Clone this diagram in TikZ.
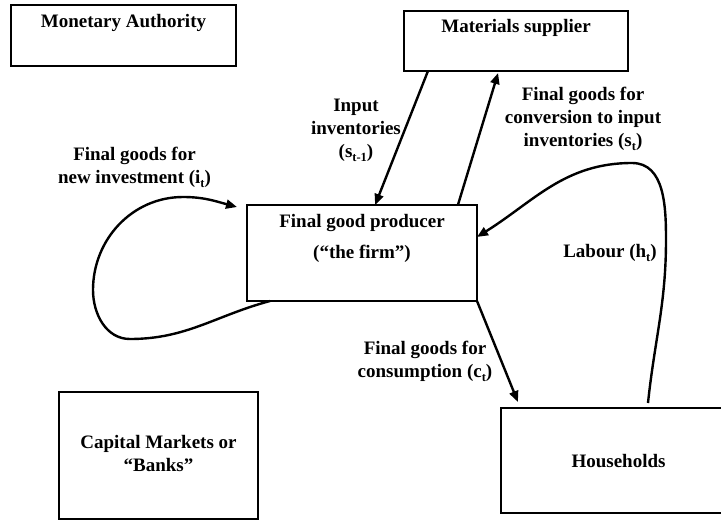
\documentclass[tikz,border=0pt]{standalone}
\usepackage{fontspec}
\setmainfont{Liberation Serif}
\usetikzlibrary{arrows.meta,calc}
\newcommand{\sbx}[1]{\raisebox{-4pt}{\fontsize{12.5}{12.5}\selectfont #1}}
\begin{document}
\begin{tikzpicture}[x=1pt,y=1pt,
  box/.style={draw, line width=1.5pt, inner sep=0pt, outer sep=0pt},
  lbl/.style={font=\fontsize{19}{22.7}\selectfont\bfseries, align=center, anchor=base, inner sep=0pt},
  flow/.style={line width=2.4pt, -{Triangle[length=11pt,width=9pt]}}]
\useasboundingbox (0,0) rectangle (721,-520);
% boxes
\node[box, minimum width=225pt, minimum height=61pt] (ma) at (123.5,-35.5) {};
\node[box, minimum width=224pt, minimum height=60pt] (ms) at (516,-41) {};
\node[box, minimum width=230pt, minimum height=96pt] (firm) at (362,-253) {};
\node[box, minimum width=199pt, minimum height=127pt] (cm) at (158.5,-455.5) {};
\node[box, minimum width=235pt, minimum height=105pt] (hh) at (618.5,-460.5) {};
% box texts (anchor base = baseline of last line)
\node[lbl] (tma) at (123.5,-27) {Monetary Authority};
\node[lbl] (tms) at (516,-32) {Materials supplier};
\node[lbl] (tfirm) at (362,-258) {Final good producer\\[8pt](“the firm”)};
\node[lbl] (tcm) at (158.5,-471) {Capital Markets or\\“Banks”};
\node[lbl] (thh) at (618.5,-467) {Households};
% flow labels
\node[lbl] (tin) at (356,-157) {Input\\inventories\\(s\sbx{t-1})};
\node[lbl] (tconv) at (583,-146) {Final goods for\\conversion to input\\inventories (s\sbx{t})};
\node[lbl] (tinv) at (134.5,-183) {Final goods for\\new investment (i\sbx{t})};
\node[lbl] (tlab) at (610,-257) {Labour (h\sbx{t})};
\node[lbl] (tcons) at (425,-377) {Final goods for\\consumption (c\sbx{t})};
% connector end points
\coordinate (inA) at ($(ms.south west)!0.107!(ms.south east)$);
\coordinate (inB) at ($(firm.north west)!0.557!(firm.north east)$);
\coordinate (cvA) at ($(firm.north west)!0.917!(firm.north east)$);
\coordinate (cvB) at ($(ms.south west)!0.42!(ms.south east)+(0,-2)$);
\coordinate (csB) at ($(hh.north west)!0.072!(hh.north east)+(0,6)$);
\coordinate (lbA) at ($(hh.north west)!0.6255!(hh.north east)+(0,5)$);
\coordinate (lbB) at ($(firm.north east)!0.333!(firm.south east)$);
\coordinate (ivA) at ($(firm.south west)!0.1!(firm.south east)$);
\coordinate (ivB) at ($(firm.north west)+(-10,-2)$);
% connectors
\draw[flow] (inA) -- (inB);
\draw[flow] (cvA) -- (cvB);
\draw[flow] (firm.south east) -- (csB);
\draw[flow] (lbA) to[out=84,in=270] (666,-240) to[out=90,in=0] (632,-163) to[out=180,in=32] (lbB);
\draw[flow] (ivA) to[out=195,in=0] (130,-339) to[out=180,in=270] (93,-290) to[out=90,in=180] (183,-197) to[out=0,in=165] (ivB);
\end{tikzpicture}
\end{document}
